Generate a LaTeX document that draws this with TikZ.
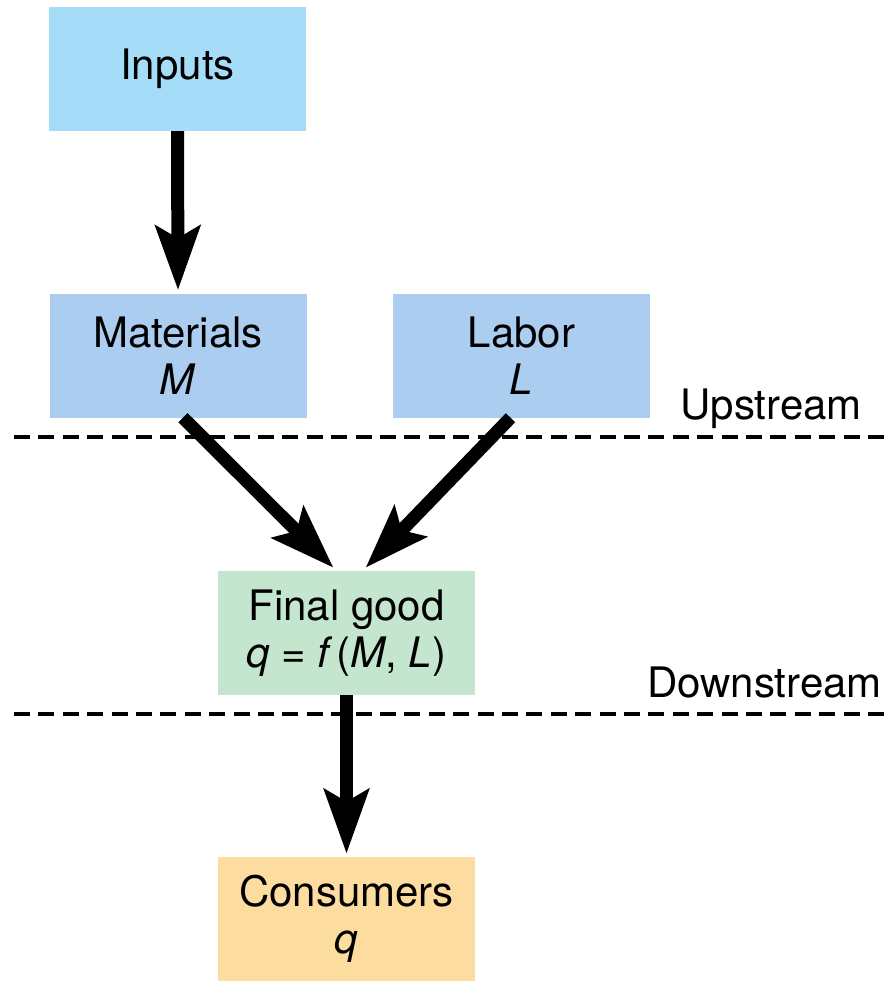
\documentclass[tikz,border=0pt]{standalone}
\usepackage{fontspec}
\setmainfont{TeX Gyre Heros}
\usetikzlibrary{arrows.meta,calc}
\definecolor{cinp}{HTML}{A5DDF8}
\definecolor{cmat}{HTML}{AACDF0}
\definecolor{cfin}{HTML}{C4E6CF}
\definecolor{ccon}{HTML}{FCDC9F}
\begin{document}
\begin{tikzpicture}[x=1pt,y=-1pt,
  box/.style={rectangle,minimum width=257pt,minimum height=124pt,inner sep=0pt,align=center,
    font=\fontsize{42}{47}\selectfont},
  arr/.style={line width=13pt,-{Stealth[length=64pt,width=44pt,inset=12pt]}},
  sep/.style={line width=4pt,dash pattern=on 16pt off 8.4pt},
  lab/.style={anchor=base east,inner sep=0pt,font=\fontsize{42}{47}\selectfont}]
\useasboundingbox (0,0) rectangle (886,982);
\node[box,fill=cinp] (inp) at (177.5,69) {Inputs};
\node[box,fill=cmat] (mat) at (178,355.5) {Materials\\\textit{M}};
\node[box,fill=cmat] (lab) at (521.5,355.5) {Labor\\\textit{L}};
\node[box,fill=cfin] (fin) at (346.5,633) {Final good\\\textit{q} = \textit{f\,}(\textit{M}, \textit{L})};
\node[box,fill=ccon] (con) at (346.5,919) {Consumers\\\textit{q}};
\coordinate (l1a) at (14,437);
\coordinate (l1b) at (886,437);
\coordinate (l2a) at (14,714);
\coordinate (l2b) at (886,714);
\draw[sep] (l1a) -- (l1b);
\draw[sep] (l2a) -- (l2b);
\node[lab] (up) at (862,419) {Upstream};
\node[lab] (down) at (882,697) {Downstream};
\draw[arr] (inp.south) -- ($(mat.north)+(0,-3)$);
\draw[arr] ($(mat.south)+(5,0)$) -- ($(fin.north)+(-13,-3)$);
\draw[arr] ($(lab.south)+(-11,0)$) -- ($(fin.north)+(19,-3)$);
\draw[arr] (fin.south) -- ($(con.north)+(0,-3)$);
\end{tikzpicture}
\end{document}
